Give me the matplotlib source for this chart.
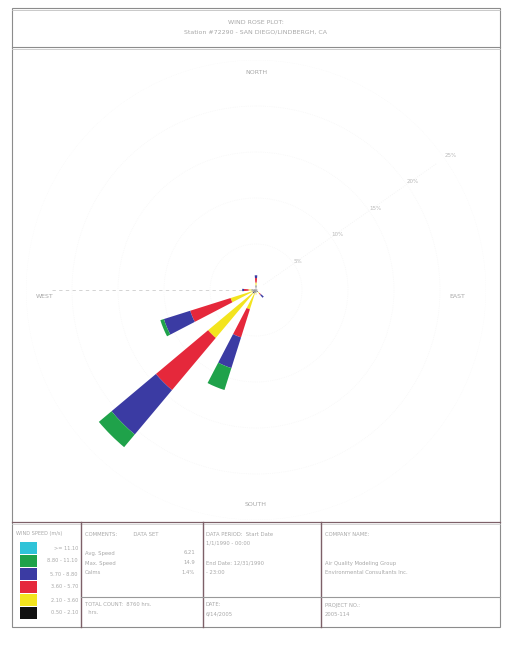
import numpy as np
import matplotlib
matplotlib.use("Agg")
import matplotlib.pyplot as plt
from matplotlib.patches import Rectangle

# 16 compass sectors, clockwise from north (degrees)
directions = ["N", "NNE", "NE", "ENE", "E", "ESE", "SE", "SSE",
              "S", "SSW", "SW", "WSW", "W", "WNW", "NW", "NNW"]
bearings = [0, 22.5, 45, 67.5, 90, 112.5, 135, 157.5,
            180, 202.5, 225, 247.5, 270, 292.5, 315, 337.5]

# frequency (%) per direction for each speed class
calm_0_5_2_1 = [0.5, 0.1, 0.1, 0.1, 0.2, 0.1, 0.3, 0.2, 0.3, 0.4, 0.5, 0.4, 0.5, 0.2, 0.1, 0.1]
spd_2_1_3_6 = [0.3, 0.0, 0.0, 0.0, 0.0, 0.0, 0.2, 0.0, 0.2, 1.8, 6.3, 2.5, 0.3, 0.0, 0.0, 0.0]
spd_3_6_5_7 = [0.5, 0.0, 0.0, 0.0, 0.0, 0.0, 0.2, 0.0, 0.0, 3.2, 7.4, 4.6, 0.5, 0.0, 0.0, 0.0]
spd_5_7_8_8 = [0.3, 0.0, 0.0, 0.0, 0.0, 0.0, 0.4, 0.0, 0.0, 3.5, 6.3, 3.0, 0.2, 0.0, 0.0, 0.0]
spd_8_8_11_1 = [0.0, 0.0, 0.0, 0.0, 0.0, 0.0, 0.0, 0.0, 0.0, 2.5, 1.8, 0.4, 0.0, 0.0, 0.0, 0.0]
spd_ge_11_1 = [0.0] * 16

speed_classes = [">= 11.10", "8.80 - 11.10", "5.70 - 8.80",
                 "3.60 - 5.70", "2.10 - 3.60", "0.50 - 2.10"]
class_colors = ["#2fc3d8", "#1fa24a", "#3b3ba3", "#e5283b", "#f3e41e", "#111111"]

ring_values = [5, 10, 15, 20, 25]
ring_labels = ["5%", "10%", "15%", "20%", "25%"]

title_lines = ["WIND ROSE PLOT:", "Station #72290 - SAN DIEGO/LINDBERGH, CA"]
TXT = "#a8a8a8"
LINE = "#7d6068"

fig = plt.figure(figsize=(5.07, 6.52), dpi=100)
fig.patch.set_facecolor("white")

# page layer in pixel coordinates
page = fig.add_axes([0, 0, 1, 1])
page.set_xlim(0, 507)
page.set_ylim(652, 0)
page.axis("off")

page.add_patch(Rectangle((12, 8), 488, 619, fill=False, ec="#8c8c8c", lw=0.8))
page.plot([12, 500], [10, 10], color="#c0c0c0", lw=0.6)
page.plot([12, 500], [47, 47], color="#8c8c8c", lw=0.8)
page.plot([12, 500], [49, 49], color="#c8c8c8", lw=0.6)
page.plot([12, 500], [522, 522], color=LINE, lw=0.9)
page.plot([12, 500], [524, 524], color="#c8c8c8", lw=0.5)
for x in [81, 203, 321]:
    page.plot([x, x], [522, 627], color=LINE, lw=1.0)
page.plot([81, 500], [597, 597], color="#999999", lw=0.8)

page.text(256, 22, title_lines[0], ha="center", va="center", fontsize=4.5, color=TXT)
page.text(256, 32, title_lines[1], ha="center", va="center", fontsize=4.5, color=TXT)

# compass words
page.text(256, 73, "NORTH", ha="center", va="center", fontsize=4.5, color=TXT)
page.text(256, 505, "SOUTH", ha="center", va="center", fontsize=4.5, color=TXT)
page.text(45, 297, "WEST", ha="center", va="center", fontsize=4.5, color=TXT)
page.text(457, 297, "EAST", ha="center", va="center", fontsize=4.5, color=TXT)

# legend box
page.text(16, 533, "WIND SPEED (m/s)", ha="left", va="center", fontsize=3.6, color=TXT)
for i, (lab, col) in enumerate(zip(speed_classes, class_colors)):
    y0 = 542 + i * 13
    page.add_patch(Rectangle((20, y0), 17, 12, color=col, lw=0))
    page.text(78, y0 + 6, lab, ha="right", va="center", fontsize=3.6, color=TXT)

# info boxes
def box_text(x, y, s, **kw):
    page.text(x, y, s, ha="left", va="center", fontsize=3.8, color=TXT, **kw)

box_text(85, 535, "COMMENTS:          DATA SET")
box_text(85, 553, "Avg. Speed")
box_text(85, 563, "Max. Speed")
box_text(85, 573, "Calms")
page.text(195, 553, "6.21", ha="right", va="center", fontsize=3.8, color=TXT)
page.text(195, 563, "14.9", ha="right", va="center", fontsize=3.8, color=TXT)
page.text(195, 573, "1.4%", ha="right", va="center", fontsize=3.8, color=TXT)
box_text(85, 605, "TOTAL COUNT:  8760 hrs.")
box_text(85, 613, "  hrs.")

box_text(206, 535, "DATA PERIOD:  Start Date")
box_text(206, 543, "1/1/1990 - 00:00")
box_text(206, 563, "End Date: 12/31/1990")
box_text(206, 573, "- 23:00")
box_text(206, 605, "DATE:")
box_text(206, 614, "6/14/2005")

box_text(325, 535, "COMPANY NAME:")
box_text(325, 563, "Air Quality Modeling Group")
box_text(325, 572, "Environmental Consultants Inc.")
box_text(325, 606, "PROJECT NO.:")
box_text(325, 615, "2005-114")

# wind rose on a polar axes centred on the plot area
rose = fig.add_axes([26 / 507, 132 / 652, 460 / 507, 460 / 652], projection="polar")
rose.set_facecolor("none")
rose.set_theta_zero_location("N")
rose.set_theta_direction(-1)
rose.set_ylim(0, 25)
rose.spines["polar"].set_visible(False)
rose.set_xticks([])
rose.set_yticks(ring_values)
rose.set_yticklabels(ring_labels, fontsize=4, color="#bababa")
rose.set_rlabel_position(55)
rose.yaxis.grid(True, color="#f5f5f5", linestyle=":", linewidth=0.5)
rose.xaxis.grid(False)

theta = np.deg2rad(bearings)
width = np.deg2rad(10)
stack = [calm_0_5_2_1, spd_2_1_3_6, spd_3_6_5_7, spd_5_7_8_8, spd_8_8_11_1, spd_ge_11_1]
stack_colors = class_colors[::-1]
base = np.zeros(len(bearings))
for vals, col in zip(stack, stack_colors):
    vals = np.array(vals)
    rose.bar(theta, vals, width=width, bottom=base, color=col, edgecolor="none", zorder=3)
    base = base + vals

# faint guide lines to the west and along the ring labels
rose.plot([np.deg2rad(270)] * 2, [1.5, 22.5], color="#cccccc", lw=0.6, ls=(0, (4, 4)), zorder=1)
rose.plot([np.deg2rad(55)] * 2, [1.0, 24], color="#f2f2f2", lw=0.6, ls=":", zorder=1)

fig.savefig("out.png", dpi=100)
